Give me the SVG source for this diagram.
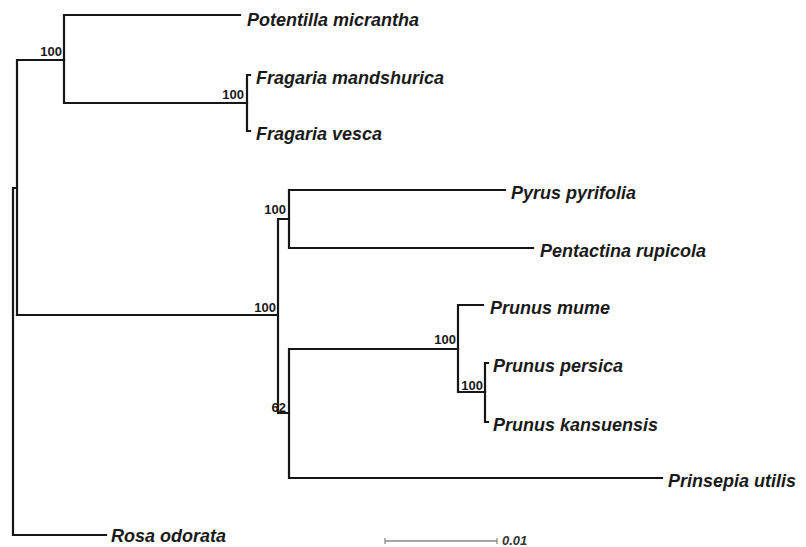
<svg xmlns="http://www.w3.org/2000/svg" width="806" height="547" viewBox="0 0 806 547">
<style>
.br{fill:none;stroke:#161616;stroke-width:2.2;stroke-linecap:square}
.tx{font-family:"Liberation Sans",Arial,sans-serif;font-size:18px;font-style:italic;font-weight:bold;fill:#1a1a1a}
.bs{font-family:"Liberation Sans",Arial,sans-serif;font-size:13px;font-weight:bold;fill:#1a1a1a;text-anchor:end}
.sc{fill:none;stroke:#8a8a8a;stroke-width:1.3}
</style>
<rect width="806" height="547" fill="#ffffff"/>
<g id="connectors">
<path class="br" d="M13,188 V535 H106 M13,188 H17"/>
<path class="br" d="M17,60 V315 M17,60 H64"/>
<path class="br" d="M64,15 V103 M64,15 H240 M64,103 H247"/>
<path class="br" d="M250,75 H247 V131 H250"/>
<path class="br" d="M17,315 H278 M278,219 V413 M278,219 H289 M278,413 H289"/>
<path class="br" d="M289,190 V248 M289,190 H505 M289,248 H533"/>
<path class="br" d="M289,349 V478 M289,349 H458 M289,478 H662"/>
<path class="br" d="M458,305 V392 M458,305 H483 M458,392 H485"/>
<path class="br" d="M488,363 H485 V422 H488"/>
</g>
<g id="n-potentilla"><text class="tx" x="247" y="26">Potentilla micrantha</text></g>
<g id="n-fragaria-mandshurica"><text class="tx" x="256" y="84">Fragaria mandshurica</text></g>
<g id="n-fragaria-vesca"><text class="tx" x="256" y="140">Fragaria vesca</text></g>
<g id="n-pyrus"><text class="tx" x="511" y="199">Pyrus pyrifolia</text></g>
<g id="n-pentactina"><text class="tx" x="540" y="257">Pentactina rupicola</text></g>
<g id="n-prunus-mume"><text class="tx" x="490" y="314">Prunus mume</text></g>
<g id="n-prunus-persica"><text class="tx" x="493" y="372">Prunus persica</text></g>
<g id="n-prunus-kansuensis"><text class="tx" x="493" y="431">Prunus kansuensis</text></g>
<g id="n-prinsepia"><text class="tx" x="668" y="487">Prinsepia utilis</text></g>
<g id="n-rosa"><text class="tx" x="111" y="542">Rosa odorata</text></g>
<g id="bootstrap">
<text class="bs" x="62" y="56">100</text>
<text class="bs" x="244" y="99">100</text>
<text class="bs" x="286" y="214">100</text>
<text class="bs" x="276" y="312">100</text>
<text class="bs" x="286" y="412">62</text>
<text class="bs" x="456" y="344">100</text>
<text class="bs" x="483" y="390">100</text>
</g>
<g id="scale-bar">
<path class="sc" d="M385,541 H497 M385,538 V544 M497,538 V544"/>
<text x="502" y="545" font-family="'Liberation Sans',Arial,sans-serif" font-size="13" font-style="italic" font-weight="bold" fill="#333">0.01</text>
</g>
</svg>
